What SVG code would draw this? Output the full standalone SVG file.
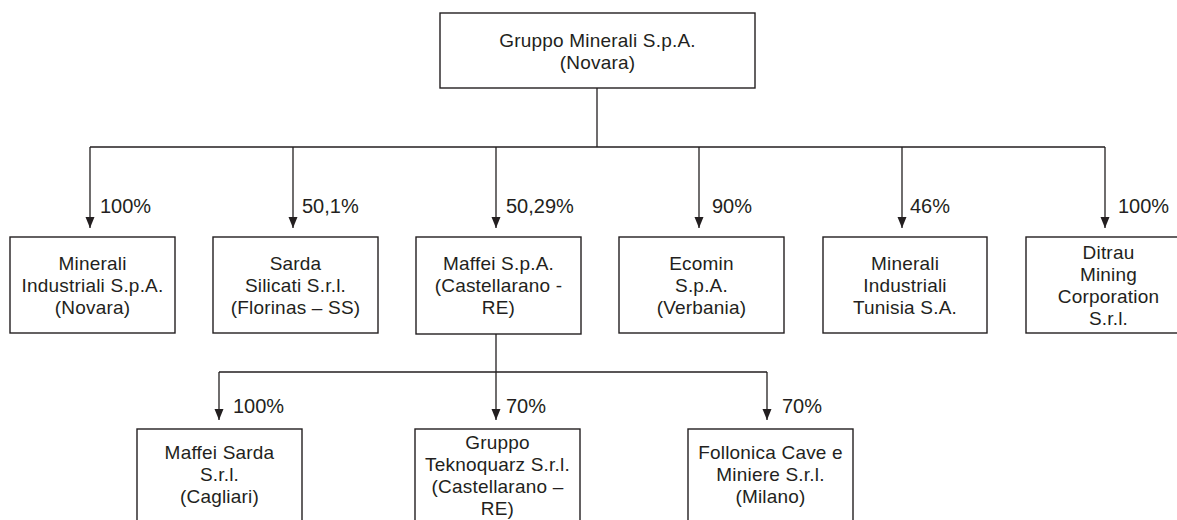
<svg xmlns="http://www.w3.org/2000/svg" width="1177" height="520" viewBox="0 0 1177 520">
<style>
.box{fill:#fff;stroke:#231f20;stroke-width:1.4}
.t{font-family:"Liberation Sans",Arial,sans-serif;font-size:19px;fill:#231f20;text-anchor:middle;letter-spacing:0.2px}
.l{font-family:"Liberation Sans",Arial,sans-serif;font-size:20px;fill:#231f20}
.c{fill:none;stroke:#231f20;stroke-width:1.3}
</style>
<defs>
<marker id="ah" markerUnits="userSpaceOnUse" markerWidth="12" markerHeight="10" refX="11" refY="5" orient="auto" viewBox="0 0 12 10">
<path d="M0,0.5 L11,5 L0,9.5 Z" fill="#231f20"/>
</marker>
</defs>
<g id="connectors">
<path class="c" d="M597,88 V147 M90,147 H1105"/>
<path class="c" d="M90,147 V228" marker-end="url(#ah)"/>
<path class="c" d="M293,147 V228" marker-end="url(#ah)"/>
<path class="c" d="M496,147 V228" marker-end="url(#ah)"/>
<path class="c" d="M699,147 V228" marker-end="url(#ah)"/>
<path class="c" d="M902,147 V228" marker-end="url(#ah)"/>
<path class="c" d="M1105,147 V228" marker-end="url(#ah)"/>
<path class="c" d="M496,334 V372 M219,372 H767"/>
<path class="c" d="M219,372 V420" marker-end="url(#ah)"/>
<path class="c" d="M496,372 V420" marker-end="url(#ah)"/>
<path class="c" d="M767,372 V420" marker-end="url(#ah)"/>
<text class="l" x="100" y="213">100%</text>
<text class="l" x="302" y="213">50,1%</text>
<text class="l" x="506" y="213">50,29%</text>
<text class="l" x="712" y="213">90%</text>
<text class="l" x="910" y="213">46%</text>
<text class="l" x="1118" y="213">100%</text>
<text class="l" x="233" y="413">100%</text>
<text class="l" x="506" y="413">70%</text>
<text class="l" x="782" y="413">70%</text>
</g>
<g id="n0">
<rect class="box" x="440" y="13" width="315" height="75"/>
<text class="t" y="47"><tspan x="597.5">Gruppo Minerali S.p.A.</tspan><tspan x="597.5" dy="22">(Novara)</tspan></text>
</g>
<g id="n1">
<rect class="box" x="10" y="237" width="165" height="96"/>
<text class="t" y="270"><tspan x="92.5">Minerali</tspan><tspan x="92.5" dy="22">Industriali S.p.A.</tspan><tspan x="92.5" dy="22">(Novara)</tspan></text>
</g>
<g id="n2">
<rect class="box" x="213" y="237" width="165" height="96"/>
<text class="t" y="270"><tspan x="295.5">Sarda</tspan><tspan x="295.5" dy="22">Silicati S.r.l.</tspan><tspan x="295.5" dy="22">(Florinas – SS)</tspan></text>
</g>
<g id="n3">
<rect class="box" x="416" y="237" width="165" height="97"/>
<text class="t" y="270"><tspan x="498.5">Maffei S.p.A.</tspan><tspan x="498.5" dy="22">(Castellarano -</tspan><tspan x="498.5" dy="22">RE)</tspan></text>
</g>
<g id="n4">
<rect class="box" x="619" y="237" width="165" height="96"/>
<text class="t" y="270"><tspan x="701.5">Ecomin</tspan><tspan x="701.5" dy="22">S.p.A.</tspan><tspan x="701.5" dy="22">(Verbania)</tspan></text>
</g>
<g id="n5">
<rect class="box" x="823" y="237" width="164" height="96"/>
<text class="t" y="270"><tspan x="905">Minerali</tspan><tspan x="905" dy="22">Industriali</tspan><tspan x="905" dy="22">Tunisia S.A.</tspan></text>
</g>
<g id="n6">
<rect class="box" x="1026" y="237" width="165" height="96"/>
<text class="t" y="259"><tspan x="1108.5">Ditrau</tspan><tspan x="1108.5" dy="22">Mining</tspan><tspan x="1108.5" dy="22">Corporation</tspan><tspan x="1108.5" dy="22">S.r.l.</tspan></text>
</g>
<g id="n7">
<rect class="box" x="137" y="429" width="165" height="100"/>
<text class="t" y="459"><tspan x="219.5">Maffei Sarda</tspan><tspan x="219.5" dy="22">S.r.l.</tspan><tspan x="219.5" dy="22">(Cagliari)</tspan></text>
</g>
<g id="n8">
<rect class="box" x="415" y="429" width="165" height="100"/>
<text class="t" y="449"><tspan x="497.5">Gruppo</tspan><tspan x="497.5" dy="22">Teknoquarz S.r.l.</tspan><tspan x="497.5" dy="22">(Castellarano –</tspan><tspan x="497.5" dy="22">RE)</tspan></text>
</g>
<g id="n9">
<rect class="box" x="688" y="429" width="165" height="100"/>
<text class="t" y="459"><tspan x="770.5">Follonica Cave e</tspan><tspan x="770.5" dy="22">Miniere S.r.l.</tspan><tspan x="770.5" dy="22">(Milano)</tspan></text>
</g>
</svg>
